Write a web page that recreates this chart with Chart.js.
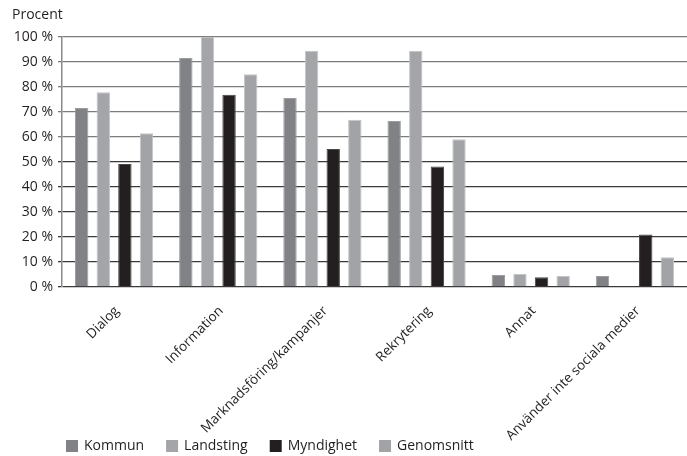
<!DOCTYPE html>
<html lang="sv">
<head>
<meta charset="UTF-8">
<title>Procent</title>
<style>
  html, body { margin: 0; padding: 0; background: #fff; }
  #wrap { width: 687px; height: 456px; }
</style>
</head>
<body>
<div id="wrap"><canvas id="myChart" width="687" height="456"></canvas></div>
<script src="https://cdn.jsdelivr.net/npm/chart.js"></script>
<script>
  const categories = ['Dialog', 'Information', 'Marknadsföring/kampanjer', 'Rekrytering', 'Annat', 'Använder inte sociala medier'];
  const kommun     = [71.5, 91.5, 75.5, 66.3, 4.8, 4.4];
  const landsting  = [77.8, 100, 94.4, 94.4, 5.3, 0];
  const myndighet  = [49.2, 76.8, 55.2, 48.2, 3.9, 21.0];
  const genomsnitt = [61.5, 85.0, 66.8, 59.1, 4.4, 11.9];
  const yTicks = [0, 10, 20, 30, 40, 50, 60, 70, 80, 90, 100];

  const font = 'Open Sans';
  const textColor = '#231f20';

  // legend row at the bottom left, partly under the long rotated labels
  const bottomLegend = {
    id: 'bottomLegend',
    afterDraw(chart) {
      const c = chart.ctx;
      c.save();
      c.font = '14px "' + font + '"';
      c.textBaseline = 'middle';
      c.textAlign = 'left';
      let x = 66;
      const y = 440;
      chart.data.datasets.forEach(function (ds) {
        c.fillStyle = ds.backgroundColor;
        c.fillRect(x, y, 12, 12);
        c.fillStyle = textColor;
        c.fillText(ds.label, x + 18, y + 6.5);
        x += 18 + c.measureText(ds.label).width + 22;
      });
      c.restore();
    }
  };

  const ctx = document.getElementById('myChart');
  new Chart(ctx, {
    type: 'bar',
    data: {
      labels: categories,
      datasets: [
        { label: 'Kommun', data: kommun, backgroundColor: '#818285', borderColor: '#9c9da0' },
        { label: 'Landsting', data: landsting, backgroundColor: '#a4a5a8', borderColor: '#c4c5c8' },
        { label: 'Myndighet', data: myndighet, backgroundColor: '#231f20', borderColor: '#4a4647' },
        { label: 'Genomsnitt', data: genomsnitt, backgroundColor: '#a2a3a6', borderColor: '#c4c5c8' }
      ]
    },
    options: {
      responsive: false,
      animation: false,
      layout: { padding: { left: 12, right: 0, top: 0, bottom: 0 } },
      datasets: {
        bar: { categoryPercentage: 0.83, barPercentage: 0.62, borderWidth: 1, borderSkipped: 'bottom' }
      },
      plugins: {
        title: {
          display: true,
          text: 'Procent',
          align: 'start',
          color: textColor,
          font: { family: font, size: 14, weight: 'normal' },
          padding: { top: 7, bottom: 13 }
        },
        legend: { display: false },
        tooltip: { enabled: false }
      },
      scales: {
        x: {
          grid: { display: false },
          border: { display: false },
          ticks: {
            color: textColor,
            font: { family: font, size: 13.5 },
            minRotation: 45,
            maxRotation: 45,
            autoSkip: false,
            padding: 8,
            labelOffset: 3
          },
          afterFit(scale) {
            scale.height = 456 - 287;
          }
        },
        y: {
          min: 0,
          max: 100,
          afterBuildTicks(scale) {
            scale.ticks = yTicks.map(v => ({ value: v }));
          },
          afterFit(scale) {
            scale.width = 50;
          },
          border: { display: true, color: '#8a8a8a', width: 1.5 },
          grid: {
            color: c => (c.tick && c.tick.value >= 60 ? '#7c7c7c' : '#3a3a3a'),
            lineWidth: 1.3,
            tickLength: 4
          },
          ticks: {
            color: textColor,
            font: { family: font, size: 14 },
            padding: 5,
            callback: v => v + ' %'
          }
        }
      }
    },
    plugins: [bottomLegend]
  });
</script>
</body>
</html>
